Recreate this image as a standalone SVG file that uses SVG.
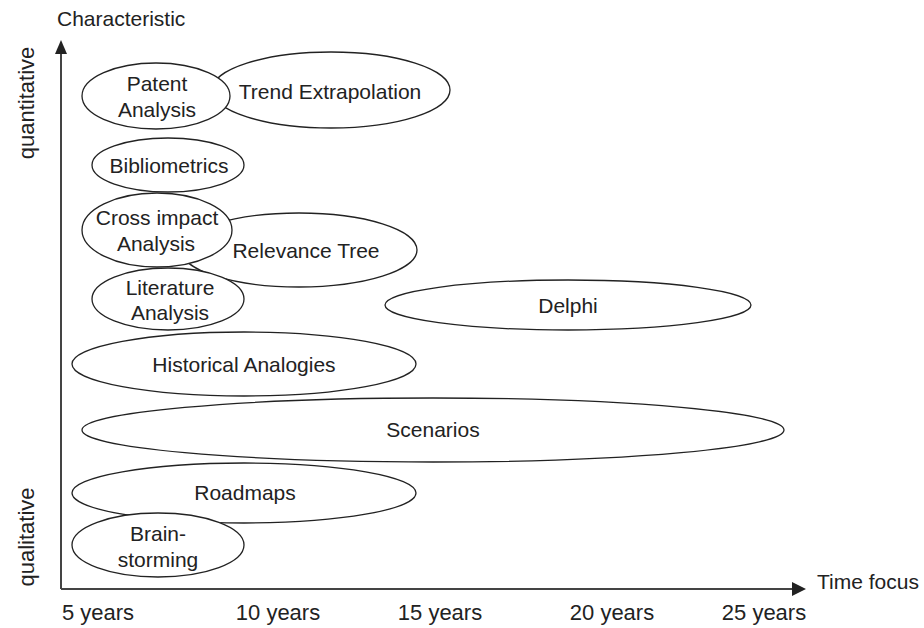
<svg xmlns="http://www.w3.org/2000/svg" width="924" height="628" viewBox="0 0 924 628">
<style>
text{font-family:"Liberation Sans",Arial,sans-serif;font-size:21px;fill:#222;}
.n ellipse{fill:#fff;stroke:#222;stroke-width:1.3;}
.n text{text-anchor:middle;}
.ax{stroke:#444;stroke-width:2;fill:none;}
.t{text-anchor:middle;font-size:22px;}
</style>
<rect width="924" height="628" fill="#fff"/>
<g id="axes">
<path class="ax" d="M61,589 V50"/>
<path d="M55,54 L61,40 L67,54 Z" fill="#222"/>
<path class="ax" d="M61,589 H792"/>
<path d="M792,582 L806,589 L792,596 Z" fill="#222"/>
<text x="57" y="26">Characteristic</text>
<text x="817" y="589">Time focus</text>
<text class="t" x="98" y="620">5 years</text>
<text class="t" x="278" y="620">10 years</text>
<text class="t" x="440" y="620">15 years</text>
<text class="t" x="612" y="620">20 years</text>
<text class="t" x="764" y="620">25 years</text>
<text class="t" transform="translate(34,103) rotate(-90)">quantitative</text>
<text class="t" transform="translate(34,537) rotate(-90)">qualitative</text>
</g>
<g id="n-trend" class="n"><ellipse cx="331" cy="90" rx="119" ry="38"/><text x="330" y="99">Trend Extrapolation</text></g>
<g id="n-patent" class="n"><ellipse cx="156" cy="96" rx="74" ry="33"/><text x="157" y="91">Patent</text><text x="157" y="117">Analysis</text></g>
<g id="n-biblio" class="n"><ellipse cx="168" cy="165" rx="76" ry="27"/><text x="169" y="173">Bibliometrics</text></g>
<g id="n-relevance" class="n"><ellipse cx="299" cy="250" rx="118" ry="37"/><text x="306" y="258">Relevance Tree</text></g>
<g id="n-cross" class="n"><ellipse cx="157" cy="230" rx="75" ry="37"/><text x="157" y="225">Cross impact</text><text x="156" y="251">Analysis</text></g>
<g id="n-literature" class="n"><ellipse cx="168" cy="299" rx="76" ry="31"/><text x="170" y="295">Literature</text><text x="170" y="320">Analysis</text></g>
<g id="n-delphi" class="n"><ellipse cx="568" cy="305" rx="183" ry="25"/><text x="568" y="313">Delphi</text></g>
<g id="n-historical" class="n"><ellipse cx="244" cy="364" rx="172" ry="32"/><text x="244" y="372">Historical Analogies</text></g>
<g id="n-scenarios" class="n"><ellipse cx="433" cy="430" rx="351" ry="32"/><text x="433" y="437">Scenarios</text></g>
<g id="n-roadmaps" class="n"><ellipse cx="244" cy="493" rx="172" ry="30"/><text x="245" y="500">Roadmaps</text></g>
<g id="n-brain" class="n"><ellipse cx="158" cy="545" rx="86" ry="32"/><text x="158" y="541">Brain-</text><text x="158" y="567">storming</text></g>
<g id="connectors"></g>
</svg>
